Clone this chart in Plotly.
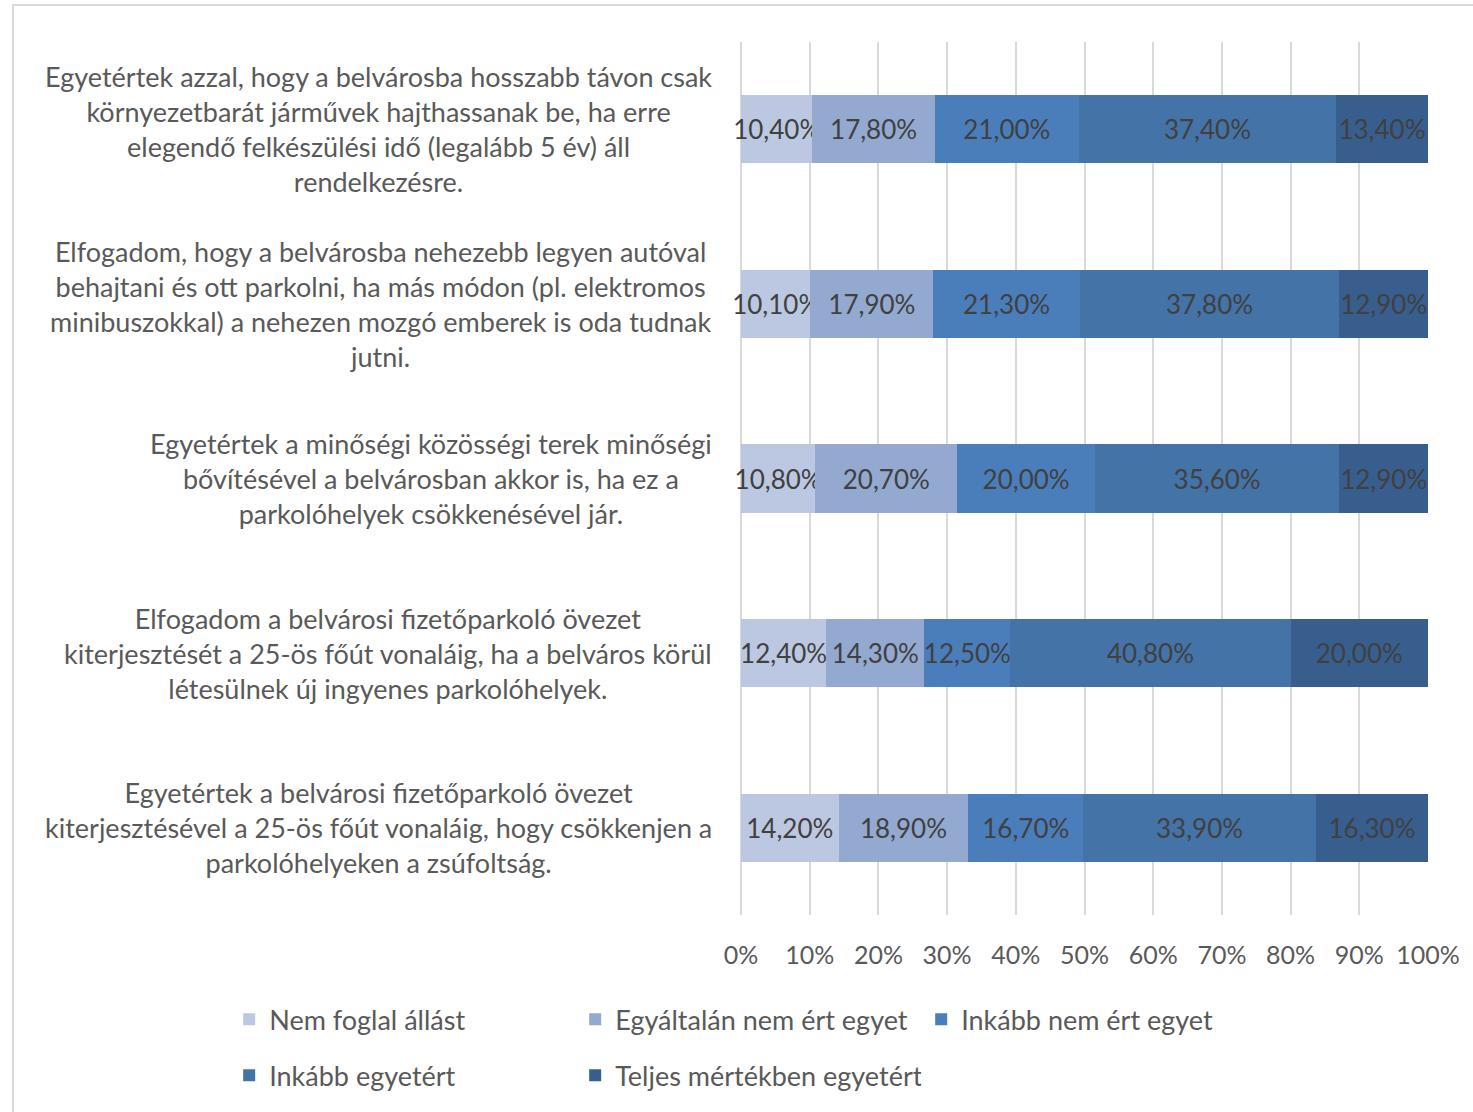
import plotly.graph_objects as go

categories = [
    "Egyetértek azzal, hogy a belvárosba hosszabb távon csak<br>környezetbarát járművek hajthassanak be, ha erre<br>elegendő felkészülési idő (legalább 5 év) áll<br>rendelkezésre.",
    "Elfogadom, hogy a belvárosba nehezebb legyen autóval<br>behajtani és ott parkolni, ha más módon (pl. elektromos<br>minibuszokkal) a nehezen mozgó emberek is oda tudnak<br>jutni.",
    "Egyetértek a minőségi közösségi terek minőségi<br>bővítésével a belvárosban akkor is, ha ez a<br>parkolóhelyek csökkenésével jár.",
    "Elfogadom a belvárosi fizetőparkoló övezet<br>kiterjesztését a 25-ös főút vonaláig, ha a belváros körül<br>létesülnek új ingyenes parkolóhelyek.",
    "Egyetértek a belvárosi fizetőparkoló övezet<br>kiterjesztésével a 25-ös főút vonaláig, hogy csökkenjen a<br>parkolóhelyeken a zsúfoltság.",
]
cat_ids = ["c1", "c2", "c3", "c4", "c5"]

series_names = [
    "Nem foglal állást",
    "Egyáltalán nem ért egyet",
    "Inkább nem ért egyet",
    "Inkább egyetért",
    "Teljes mértékben egyetért",
]
nem_foglal = [10.4, 10.1, 10.8, 12.4, 14.2]
egyaltalan_nem = [17.8, 17.9, 20.7, 14.3, 18.9]
inkabb_nem = [21.0, 21.3, 20.0, 12.5, 16.7]
inkabb_igen = [37.4, 37.8, 35.6, 40.8, 33.9]
teljes = [13.4, 12.9, 12.9, 20.0, 16.3]
series_values = [nem_foglal, egyaltalan_nem, inkabb_nem, inkabb_igen, teljes]
colors = ["#BCC8E1", "#93A9D0", "#4A7EBB", "#4473A8", "#385E8D"]

FONT = "Lato, Liberation Sans, sans-serif"
GREY = "#595959"

fig = go.Figure()
for i, (name, vals) in enumerate(zip(series_names, series_values)):
    fig.add_trace(go.Bar(
        y=cat_ids, x=vals, name=name, orientation="h",
        marker=dict(color=colors[i], line=dict(width=0)),
        texttemplate="%{x:.2f}%", textposition="inside",
        insidetextanchor="middle", textangle=0,
        textfont=dict(family=FONT, size=26, color="#404040"),
        legend="legend" if i < 3 else "legend2",
        cliponaxis=False,
        hoverinfo="skip",
    ))

annotations = []
for cid, label in zip(cat_ids, categories):
    annotations.append(dict(
        x=0, xref="paper", y=cid, yref="y", text=label,
        xanchor="right", yanchor="middle", align="center",
        xshift=-27, showarrow=False,
        font=dict(family=FONT, size=27, color=GREY),
    ))

legend_common = dict(
    orientation="h", xanchor="left", yanchor="top",
    entrywidth=301, entrywidthmode="pixels", traceorder="normal",
    font=dict(family=FONT, size=27, color=GREY), itemwidth=30,
)

fig.update_layout(
    barmode="stack",
    bargap=0.61,
    separators=", ",
    width=1473, height=1112,
    margin=dict(l=741, r=45, t=42, b=195),
    paper_bgcolor="white", plot_bgcolor="white",
    uniformtext=dict(minsize=26, mode="show"),
    annotations=annotations,
    xaxis=dict(
        range=[0, 100], dtick=10, ticksuffix="%",
        showgrid=True, gridcolor="#D9D9D9", gridwidth=2,
        zeroline=True, zerolinecolor="#D9D9D9", zerolinewidth=2,
        showline=False,
        tickfont=dict(family=FONT, size=25, color=GREY),
        ticks="", ticklabelstandoff=23,
    ),
    yaxis=dict(
        showticklabels=False, autorange="reversed",
        showgrid=False, zeroline=False, showline=False,
    ),
    legend=dict(x=-0.745, y=-0.092, **legend_common),
    legend2=dict(x=-0.745, y=-0.156, **legend_common),
    shapes=[dict(
        type="rect", xref="paper", yref="paper",
        x0=-1.0597, x1=1.08, y0=-0.25, y1=1.0423,
        line=dict(color="#D9D9D9", width=2), fillcolor="rgba(0,0,0,0)",
        layer="below",
    )],
)

fig.write_html("out.html", config={"displayModeBar": False},
               post_script="document.body.style.margin='0';")
